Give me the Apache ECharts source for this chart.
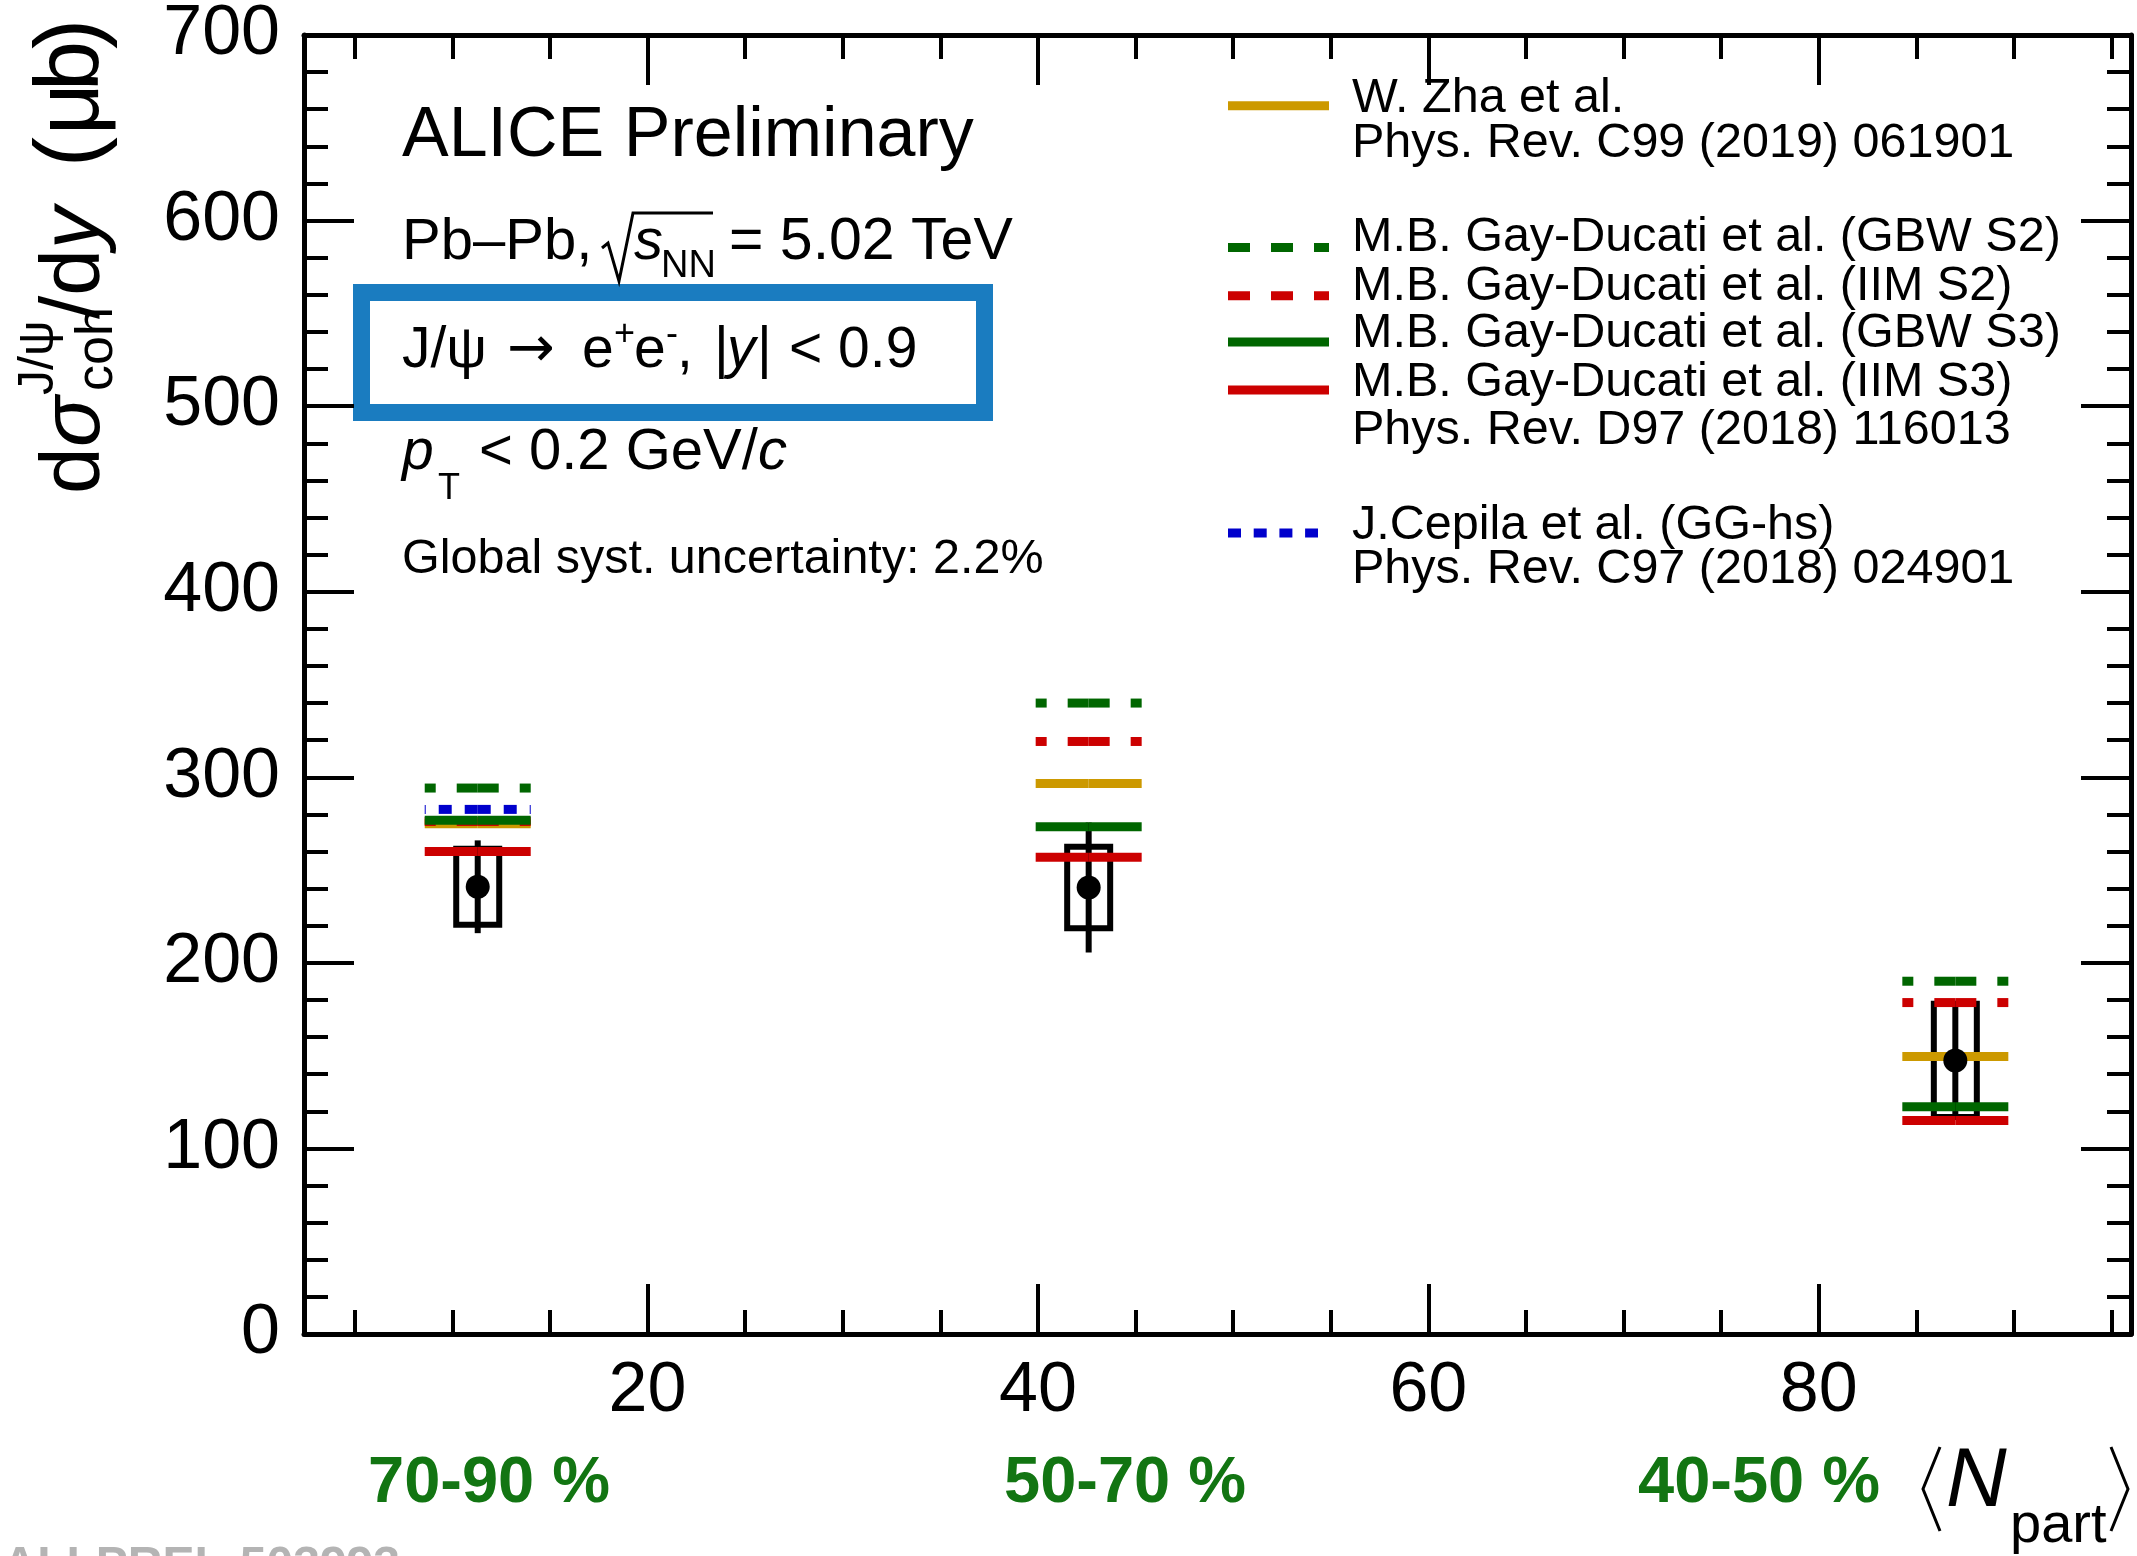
<!DOCTYPE html>
<html>
<head>
<meta charset="utf-8">
<script src="https://cdn.jsdelivr.net/npm/echarts@6/dist/echarts.min.js"></script>
<style>
  html, body { margin: 0; padding: 0; background: #fff; }
  #chart { width: 2137px; height: 1556px; }
</style>
</head>
<body>
<div id="chart"></div>
<script>
// centrality classes and their <Npart>
var centralities = ['70-90 %', '50-70 %', '40-50 %'];
var nPart = [11.3, 42.6, 87.0];
// measured coherent J/psi cross section (mub) with uncertainties
var xsec = [241.0, 240.6, 147.4];
var statErr = [25.0, 35.0, 29.5];
var sysErr = [20.5, 22.0, 30.5];
// model predictions (mub)
var zha = [275.0, 296.6, 149.6];
var gbwS2 = [294.2, 340.0, 190.1];
var iimS2 = [276.2, 319.3, 178.6];
var gbwS3 = [276.8, 273.3, 122.5];
var iimS3 = [260.0, 256.9, 115.0];
var cepila = [282.7, null, null];
// x axis ticks
var xMajor = [20, 40, 60, 80];
var xMinor = [5, 10, 15, 25, 30, 35, 45, 50, 55, 65, 70, 75, 85, 90, 95];

var FONT = '"Liberation Sans", Arial, Helvetica, sans-serif';
var GREEN = '#006600', RED = '#cc0000', GOLD = '#cc9900', BLUE = '#0000cc';

var myChart = echarts.init(document.getElementById('chart'));

function pairs(ys) {
  var out = [];
  for (var i = 0; i < ys.length; i++) {
    if (ys[i] != null) out.push([nPart[i], ys[i]]);
  }
  return out;
}

// text placed by its baseline
function txt(x, base, text, size, extra) {
  var style = {
    text: text, fill: '#000', fontFamily: FONT, fontSize: size,
    align: 'left', verticalAlign: 'middle'
  };
  for (var k in extra) style[k] = extra[k];
  return { type: 'text', x: x, y: base - 0.35 * size, style: style, silent: true };
}

function levelSeries(name, ys, color, dash) {
  return {
    name: name,
    type: 'custom',
    silent: true,
    data: pairs(ys),
    renderItem: function (params, api) {
      var c = api.coord([api.value(0), api.value(1)]);
      var st = { stroke: color, lineWidth: 9, lineDash: dash, lineCap: 'butt' };
      // ROOT draws each level as two halves starting at the centre
      return {
        type: 'group',
        children: [
          { type: 'line', shape: { x1: c[0], y1: c[1], x2: c[0] - 53, y2: c[1] }, style: st },
          { type: 'line', shape: { x1: c[0], y1: c[1], x2: c[0] + 53, y2: c[1] }, style: st }
        ]
      };
    }
  };
}

var measured = [];
for (var i = 0; i < nPart.length; i++) measured.push([nPart[i], xsec[i], statErr[i], sysErr[i]]);

function xAxisDef(pos, vals, len, withLine, withLabel) {
  return {
    type: 'value', position: pos, min: 2.4, max: 96,
    axisLine: { show: withLine, onZero: false, lineStyle: { color: '#000', width: 5 } },
    axisTick: { show: true, inside: true, length: len, customValues: vals, lineStyle: { color: '#000', width: 4 } },
    axisLabel: { show: withLabel, customValues: vals, color: '#000', fontFamily: FONT, fontSize: 70, margin: 23 },
    splitLine: { show: false }
  };
}

function yAxisDef(pos, withLabel) {
  return {
    type: 'value', position: pos, min: 0, max: 700, interval: 100,
    axisLine: { show: true, onZero: false, lineStyle: { color: '#000', width: 5 } },
    axisTick: { show: true, inside: true, length: 50, lineStyle: { color: '#000', width: 4 } },
    minorTick: { show: true, splitNumber: 5, length: 24, lineStyle: { color: '#000', width: 4 } },
    axisLabel: { show: withLabel, color: '#000', fontFamily: FONT, fontSize: 70, margin: 24 },
    splitLine: { show: false }
  };
}

var legendX1 = 1228, legendX2 = 1329, legendTx = 1352, LF = 48.5;

var graphics = [
  // y axis title, reading upwards
  {
    type: 'group', x: 105, y: 497, rotation: Math.PI / 2, silent: true,
    children: [
      txt(3, 0, 'd', 84),
      txt(50, 0, 'σ', 84, { fontStyle: 'italic' }),
      txt(102, -48, 'J/ψ', 50),
      txt(106, 11, 'coh', 52),
      txt(178, 0, '/d', 84),
      txt(248, 0, 'y', 84, { fontStyle: 'italic' }),
      txt(330, 0, '(', 90),
      txt(362, 0, 'μ', 90),
      txt(406, 0, 'b', 90),
      txt(448, 0, ')', 90)
    ]
  },
  // blue frame round the decay channel
  { type: 'rect', silent: true, shape: { x: 361.5, y: 292.5, width: 623, height: 120 },
    style: { fill: 'none', stroke: '#1a7cc0', lineWidth: 17 } },
  txt(402, 161, 'ALICE Preliminary', 70),
  txt(402, 263, 'Pb\u2013Pb,', 58),
  { type: 'polyline', silent: true,
    shape: { points: [[602, 248], [608, 243], [619, 281], [633, 213], [713, 213]] },
    style: { stroke: '#000', lineWidth: 3, fill: 'none' } },
  txt(634, 263, 's', 58, { fontStyle: 'italic' }),
  txt(661, 280, 'NN', 38),
  txt(729, 263, '= 5.02 TeV', 59),
  txt(402, 371, 'J/ψ', 57),
  txt(507, 371, '\u2192', 57, { fontFamily: '"DejaVu Sans", sans-serif' }),
  txt(582, 371, 'e', 57),
  txt(614, 348, '+', 36),
  txt(634, 371, 'e', 57),
  txt(666, 348, '-', 36),
  txt(677, 371, ',', 57),
  txt(714, 371, '|', 57),
  txt(727, 371, 'y', 57, { fontStyle: 'italic' }),
  txt(757, 371, '|', 57),
  txt(789, 371, '< 0.9', 57),
  txt(402, 473, 'p', 57, { fontStyle: 'italic' }),
  txt(438, 502, 'T', 36),
  txt(479, 473, '< 0.2 GeV/', 58),
  txt(758, 473, 'c', 58, { fontStyle: 'italic' }),
  txt(402, 577, 'Global syst. uncertainty: 2.2%', 48.5),
  // legend
  { type: 'line', silent: true, shape: { x1: legendX1, y1: 105.7, x2: legendX2, y2: 105.7 }, style: { stroke: GOLD, lineWidth: 9 } },
  { type: 'line', silent: true, shape: { x1: legendX1, y1: 247.5, x2: legendX2, y2: 247.5 }, style: { stroke: GREEN, lineWidth: 9, lineDash: [22, 21] } },
  { type: 'line', silent: true, shape: { x1: legendX1, y1: 295.7, x2: legendX2, y2: 295.7 }, style: { stroke: RED, lineWidth: 9, lineDash: [22, 21] } },
  { type: 'line', silent: true, shape: { x1: legendX1, y1: 342, x2: legendX2, y2: 342 }, style: { stroke: GREEN, lineWidth: 9 } },
  { type: 'line', silent: true, shape: { x1: legendX1, y1: 390, x2: legendX2, y2: 390 }, style: { stroke: RED, lineWidth: 9 } },
  { type: 'line', silent: true, shape: { x1: legendX1, y1: 533, x2: 1318, y2: 533 }, style: { stroke: BLUE, lineWidth: 9, lineDash: [13, 12.7] } },
  txt(legendTx, 116, 'W. Zha et al.', LF),
  txt(legendTx, 161, 'Phys. Rev. C99 (2019) 061901', LF),
  txt(legendTx, 255, 'M.B. Gay-Ducati et al. (GBW S2)', LF),
  txt(legendTx, 304, 'M.B. Gay-Ducati et al. (IIM S2)', LF),
  txt(legendTx, 351, 'M.B. Gay-Ducati et al. (GBW S3)', LF),
  txt(legendTx, 400, 'M.B. Gay-Ducati et al. (IIM S3)', LF),
  txt(legendTx, 448, 'Phys. Rev. D97 (2018) 116013', LF),
  txt(legendTx, 543, 'J.Cepila et al. (GG-hs)', LF),
  txt(legendTx, 587, 'Phys. Rev. C97 (2018) 024901', LF),
  // x axis title
  { type: 'polyline', silent: true, shape: { points: [[1940, 1447], [1923, 1489], [1940, 1531]] },
    style: { stroke: '#000', lineWidth: 3, fill: 'none' } },
  txt(1946, 1512, 'N', 84, { fontStyle: 'italic' }),
  txt(2010, 1546, 'part', 56),
  { type: 'polyline', silent: true, shape: { points: [[2111, 1447], [2128, 1489], [2111, 1531]] },
    style: { stroke: '#000', lineWidth: 3, fill: 'none' } },
  // preliminary number, cut by the page edge
  txt(400, 1584, 'ALI-PREL-503993', 48, { fill: '#b4b4b4', fontWeight: 'bold', align: 'right' })
];

var labelX = [368, 1004, 1638];
for (var j = 0; j < centralities.length; j++) {
  graphics.push(txt(labelX[j], 1507, centralities[j], 65, { fill: '#127512', fontWeight: 'bold' }));
}

var option = {
  animation: false,
  backgroundColor: '#fff',
  grid: { left: 304, right: 6, top: 27, bottom: 222, containLabel: false },
  xAxis: [
    xAxisDef('bottom', xMajor, 50, true, true),
    xAxisDef('bottom', xMinor, 24, false, false),
    xAxisDef('top', xMajor, 50, true, false),
    xAxisDef('top', xMinor, 24, false, false)
  ],
  yAxis: [yAxisDef('left', true), yAxisDef('right', false)],
  graphic: graphics,
  series: [
    {
      name: 'syst',
      type: 'custom', silent: true,
      data: measured,
      renderItem: function (params, api) {
        var x = api.value(0), y = api.value(1), s = api.value(3);
        var top = api.coord([x, y + s]), bot = api.coord([x, y - s]);
        return {
          type: 'rect',
          shape: { x: top[0] - 21.5, y: top[1], width: 43, height: bot[1] - top[1] },
          style: { fill: 'none', stroke: '#000', lineWidth: 6 }
        };
      }
    },
    {
      name: 'stat',
      type: 'custom', silent: true,
      data: measured,
      renderItem: function (params, api) {
        var x = api.value(0), y = api.value(1), e = api.value(2);
        var top = api.coord([x, y + e]), bot = api.coord([x, y - e]);
        return {
          type: 'line',
          shape: { x1: top[0], y1: top[1], x2: bot[0], y2: bot[1] },
          style: { stroke: '#000', lineWidth: 6 }
        };
      }
    },
    {
      name: 'ALICE',
      type: 'scatter', silent: true,
      data: measured,
      symbol: 'circle', symbolSize: 24,
      itemStyle: { color: '#000', opacity: 1 }
    },
    levelSeries('W. Zha et al.', zha, GOLD, null),
    levelSeries('GBW S2', gbwS2, GREEN, [21, 21]),
    levelSeries('IIM S2', iimS2, RED, [21, 21]),
    levelSeries('IIM S3', iimS3, RED, null),
    levelSeries('GBW S3', gbwS3, GREEN, null),
    levelSeries('GG-hs', cepila, BLUE, [13, 13])
  ]
};

myChart.setOption(option);
</script>
</body>
</html>
